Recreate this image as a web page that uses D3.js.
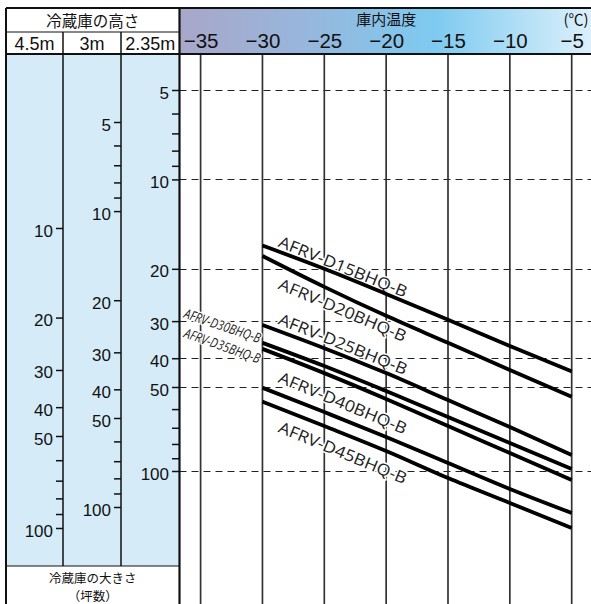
<!DOCTYPE html>
<html><head><meta charset="utf-8">
<script src="https://cdn.jsdelivr.net/npm/d3@7"></script>
<style>body{margin:0;background:#fff}svg{display:block}</style>
</head><body>
<svg id="c" width="591" height="604"></svg>
<script>
// ---- data ----
const temps = [-30, -25, -20, -15, -10, -5];
const tempTicks = [-35, -30, -25, -20, -15, -10, -5];
const models = ["AFRV-D15BHQ-B", "AFRV-D20BHQ-B", "AFRV-D25BHQ-B", "AFRV-D30BHQ-B", "AFRV-D35BHQ-B", "AFRV-D40BHQ-B", "AFRV-D45BHQ-B"];
const d15 = [16.7, 20.0, 24.3, 29.7, 36.4, 44.3];
const d20 = [18.1, 23.0, 28.8, 35.5, 43.8, 54.2];
const d25 = [30.9, 37.0, 44.9, 55.7, 69.6, 87.6];
const d30 = [35.5, 42.5, 51.7, 64.0, 79.4, 98.4];
const d35 = [37.2, 44.9, 55.2, 69.0, 86.2, 107.7];
const d40 = [50.3, 61.5, 75.5, 93.6, 116.0, 141.4];
const d45 = [56.4, 69.0, 84.8, 106.0, 130.2, 160.1];
const heightLabels = ["4.5m", "3m", "2.35m"];
const ticksRight = [5, 6, 7, 8, 9, 10, 20, 30, 40, 50, 60, 70, 80, 90, 100];
const ticksMid = [5, 6, 7, 8, 9, 10, 20, 30, 40, 50, 60, 70, 80, 90, 100];
const ticksLeft = [10, 20, 30, 40, 50, 60, 70, 80, 90, 100];
const majorLabels = [5, 10, 20, 30, 40, 50, 100];
const gridValues = [5, 10, 20, 30, 40, 50, 100];
const titleHeight = "冷蔵庫の高さ";
const titleTemp = "庫内温度";
const unitTemp = "(℃)";
const titleSize1 = "冷蔵庫の大きさ";
const titleSize2 = "（坪数）";

const series = [d15, d20, d25, d30, d35, d40, d45];

// ---- layout ----
const W = 591, H = 604;
const svg = d3.select("#c");
const L = 6, AX1 = 63, AX2 = 121, AX3 = 179.5, TOP = 8, ROW1 = 32, HB = 54, FOOT = 566;

const x = d3.scaleLinear().domain([-35, -5]).range([200.6, 571.7]);
const yR = d3.scaleLog().domain([5, 50, 100]).range([90, 387, 471]);
const yM = d3.scaleLog().domain([5, 50, 100]).range([122, 418, 507]);
const yL = d3.scaleLog().domain([10, 50, 100]).range([228, 436, 528]);
const snap = v => Math.round(v) + 0.5;

const defs = svg.append("defs");
const g = defs.append("linearGradient").attr("id", "hg").attr("x1", 0).attr("x2", 1).attr("y1", 0).attr("y2", 0);
[[0, "#a8a7c9"], [0.3, "#98b6dc"], [0.62, "#7ecaf0"], [1, "#dcf0fb"]].forEach(s =>
  g.append("stop").attr("offset", s[0]).attr("stop-color", s[1]));

// left table background
svg.append("rect").attr("x", L).attr("y", HB).attr("width", AX3 - L).attr("height", FOOT - HB).attr("fill", "#d5ebf8");
// header gradient
svg.append("rect").attr("x", AX3).attr("y", TOP).attr("width", W - AX3).attr("height", HB - TOP).attr("fill", "url(#hg)");

// grid dashed lines
svg.append("g").selectAll("line").data(gridValues).join("line")
  .attr("x1", AX3).attr("x2", W).attr("y1", d => snap(yR(d))).attr("y2", d => snap(yR(d)))
  .attr("stroke", "#222").attr("stroke-width", 1).attr("stroke-dasharray", "7,5");

// vertical temp lines
svg.append("g").selectAll("line").data(tempTicks).join("line")
  .attr("x1", d => x(d)).attr("x2", d => x(d)).attr("y1", HB).attr("y2", H)
  .attr("stroke", "#333").attr("stroke-width", 1.7);

// header x axis labels
const xAxis = d3.axisTop(x).tickValues(tempTicks).tickSize(0).tickPadding(6.5)
  .tickFormat(d => "\u2212" + Math.abs(d));
const gx = svg.append("g").attr("transform", `translate(0,${HB})`).call(xAxis);
gx.select(".domain").remove();
gx.selectAll("text").attr("font-family", "Liberation Sans, Arial, sans-serif").attr("font-size", 20.5).attr("fill", "#111");

svg.append("text").attr("x", x(-20)).attr("y", 25).attr("text-anchor", "middle")
  .attr("font-family", "Noto Sans CJK JP").attr("font-size", 15).attr("fill", "#111").text(titleTemp);
svg.append("text").attr("x", 576).attr("y", 25).attr("text-anchor", "middle")
  .attr("font-family", "Noto Sans CJK JP").attr("font-size", 15).attr("fill", "#111").text(unitTemp);

// header left
svg.append("text").attr("x", (L + AX3) / 2).attr("y", 27).attr("text-anchor", "middle")
  .attr("font-family", "Noto Sans CJK JP").attr("font-size", 15.5).attr("fill", "#111").text(titleHeight);
const colCenters = [(L + AX1) / 2, (AX1 + AX2) / 2, (AX2 + AX3) / 2];
svg.append("g").selectAll("text").data(heightLabels).join("text")
  .attr("x", (d, i) => colCenters[i]).attr("y", 50).attr("text-anchor", "middle")
  .attr("font-family", "Liberation Sans, Arial, sans-serif").attr("font-size", 18).attr("fill", "#111").text(d => d);

// footer
svg.append("text").attr("x", (L + AX3) / 2).attr("y", 582.5).attr("text-anchor", "middle")
  .attr("font-family", "Noto Sans CJK JP").attr("font-size", 12.5).attr("fill", "#111").text(titleSize1);
svg.append("text").attr("x", (L + AX3) / 2).attr("y", 601).attr("text-anchor", "middle")
  .attr("font-family", "Noto Sans CJK JP").attr("font-size", 12.5).attr("fill", "#111").text(titleSize2);

// y axes
function yAxis(scale, ticks, xpos) {
  const ax = d3.axisLeft(scale).tickValues(ticks).tickSize(7).tickSizeOuter(0).tickPadding(3)
    .tickFormat(d => majorLabels.includes(d) ? d : "");
  const ga = svg.append("g").attr("transform", `translate(${xpos},0)`).call(ax);
  ga.select(".domain").remove();
  ga.selectAll("line").attr("stroke", "#111").attr("stroke-width", 1.5);
  ga.selectAll("text").attr("font-family", "Liberation Sans, Arial, sans-serif").attr("font-size", 17)
    .attr("fill", "#111").attr("dy", "0.47em");
}
yAxis(yL, ticksLeft, AX1);
yAxis(yM, ticksMid, AX2);
yAxis(yR, ticksRight, AX3 - 0.5);

// table lines
const ln = (x1, y1, x2, y2, w) => svg.append("line").attr("x1", x1).attr("y1", y1).attr("x2", x2).attr("y2", y2)
  .attr("stroke", "#111").attr("stroke-width", w);
ln(L, TOP, W, TOP, 2);
ln(L, ROW1, AX3, ROW1, 1.2);
ln(L, HB, W, HB, 2.2);
ln(L, FOOT, AX3, FOOT, 1.2);
ln(L, TOP, L, H, 2);
ln(AX1, ROW1, AX1, FOOT, 1.5);
ln(AX2, ROW1, AX2, FOOT, 1.5);
ln(AX3, TOP, AX3, H, 2.2);

// line labels (drawn under the curves, white halo breaks the grid)
const lab = [
  {i: 0, t: -28.8, v: 16.8, a: 22, s: 16, len: 137, it: false},
  {i: 1, t: -28.8, v: 23.3, a: 23, s: 16, len: 137, it: false},
  {i: 2, t: -28.8, v: 30.6, a: 22, s: 16, len: 137, it: false},
  {i: 5, t: -28.8, v: 48.1, a: 22.5, s: 16, len: 137, it: false},
  {i: 6, t: -28.8, v: 72.3, a: 22.5, s: 16, len: 137, it: false},
  {i: 3, t: -36.42, v: 29.2, a: 18.5, s: 13.5, len: 80, it: true},
  {i: 4, t: -36.42, v: 33.9, a: 19.5, s: 13.5, len: 80, it: true}
];
svg.append("g").selectAll("text").data(lab).join("text")
  .attr("transform", d => `translate(${x(d.t)},${yR(d.v)}) rotate(${d.a})`)
  .attr("font-family", "Open Sans, Noto Sans, sans-serif")
  .attr("font-size", d => d.s)
  .attr("font-style", d => d.it ? "italic" : "normal")
  .attr("textLength", d => d.len).attr("lengthAdjust", "spacingAndGlyphs")
  .attr("fill", "#222").attr("stroke", "#fff").attr("stroke-width", 3)
  .attr("paint-order", "stroke").attr("stroke-linejoin", "round")
  .text(d => models[d.i]);

// data lines
const line = d3.line().x((d, i) => x(temps[i])).y(d => yR(d)).curve(d3.curveMonotoneX);
svg.append("g").selectAll("path").data(series).join("path")
  .attr("d", line).attr("fill", "none").attr("stroke", "#000").attr("stroke-width", 3.8);
</script>
</body></html>
